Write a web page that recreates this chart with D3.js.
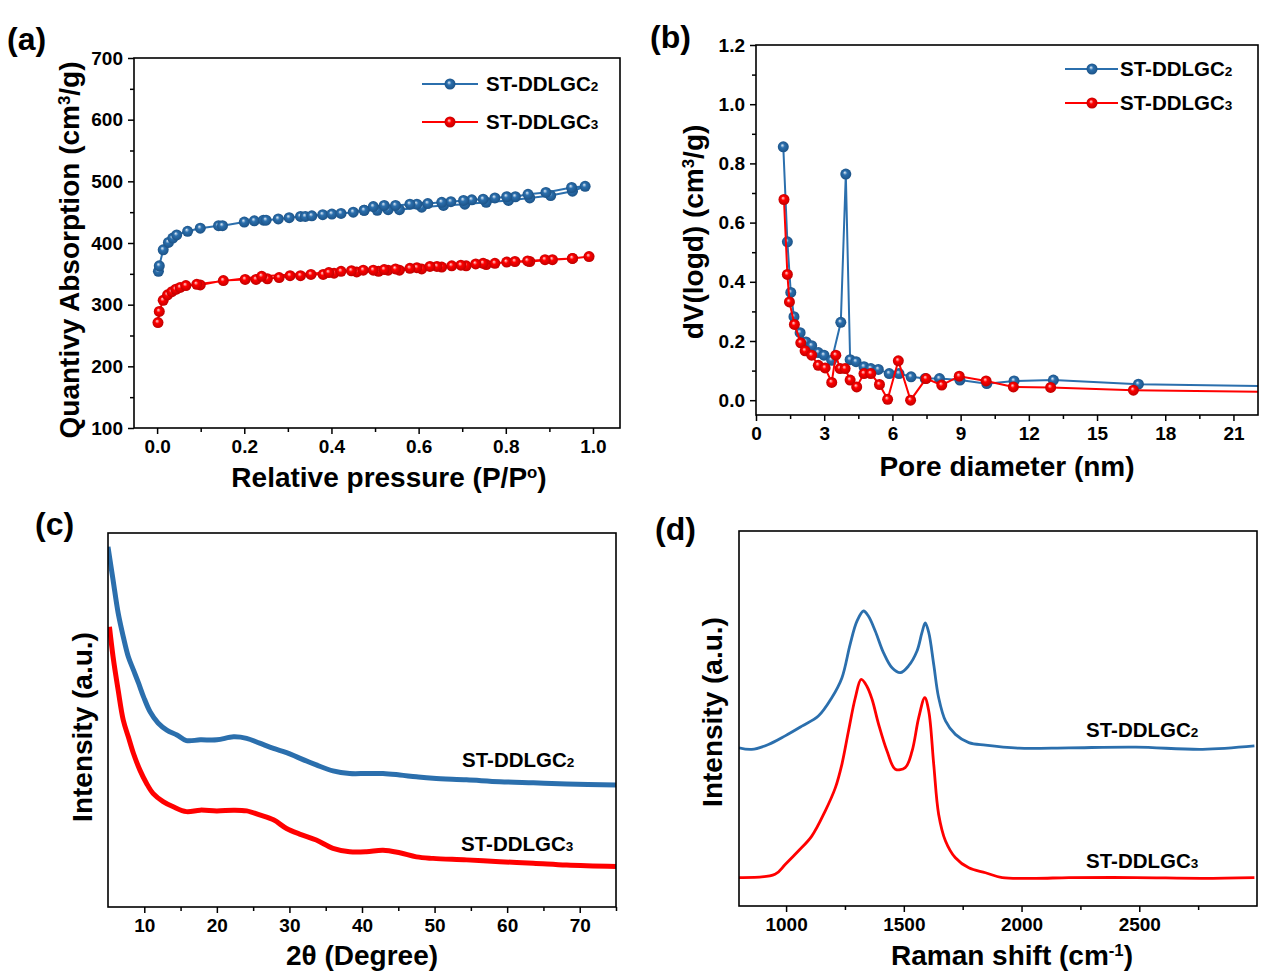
<!DOCTYPE html>
<html><head><meta charset="utf-8">
<script src="https://cdn.jsdelivr.net/npm/d3@7"></script>
<style>
body{margin:0;background:#fff}
text{font-family:"Liberation Sans",Arial,sans-serif;font-weight:bold;fill:#000}
</style>
</head><body>
<svg id="chart" width="1269" height="977"></svg>
<script>
// ---------- DATA ----------
const seriesNames = ["ST-DDLGC", "ST-DDLGC"];
const seriesSubs = ["2", "3"];
const colors = ["#2b6fad", "#ff0000"];

// (a) N2 isotherms  [P/P0, V]
const isoBlueAds = [[0.003,354],[0.005,363],[0.014,389],[0.026,401],[0.036,408],[0.045,413],[0.070,419],[0.099,424],[0.141,428],[0.150,428],[0.200,434],[0.223,436],[0.244,437],[0.250,437],[0.278,439],[0.303,441],[0.329,443],[0.340,443],[0.355,444],[0.380,446],[0.401,447],[0.422,448],[0.450,450],[0.475,453],[0.505,453],[0.530,454],[0.556,454],[0.607,458],[0.657,461],[0.706,463],[0.755,466],[0.806,469],[0.855,473],[0.903,477],[0.953,484],[0.982,492]];
const isoBlueDes = [[0.951,490],[0.892,482],[0.851,479],[0.822,475],[0.802,475],[0.775,473],[0.748,471],[0.722,470],[0.703,469],[0.674,467],[0.653,466],[0.621,464],[0.596,463],[0.580,463],[0.547,461],[0.521,461],[0.496,459],[0.475,453]];
const isoRedAds = [[0.002,271],[0.005,289],[0.014,307],[0.024,316],[0.034,321],[0.043,325],[0.053,328],[0.066,331],[0.099,332],[0.152,339],[0.202,341],[0.227,341],[0.253,342],[0.280,344],[0.305,347],[0.329,347],[0.353,349],[0.381,349],[0.406,351],[0.422,354],[0.458,353],[0.508,354],[0.530,356],[0.556,356],[0.607,358],[0.653,361],[0.709,363],[0.755,365],[0.802,369],[0.855,370],[0.907,373],[0.953,375],[0.991,378]];
const isoRedDes = [[0.953,375],[0.890,373],[0.850,371],[0.821,370],[0.775,367],[0.748,367],[0.731,366],[0.697,364],[0.676,363],[0.642,362],[0.626,362],[0.596,360],[0.580,359],[0.547,358],[0.521,357],[0.496,356],[0.473,356],[0.446,355],[0.394,352],[0.240,346],[0.091,333]];
const aXTicks = [0,0.2,0.4,0.6,0.8,1.0];
const aYTicks = [100,200,300,400,500,600,700];

// (b) pore size distribution [d (nm), dV(logd)]
const psdBlue = [[1.20,0.856],[1.38,0.535],[1.53,0.364],[1.67,0.282],[1.94,0.228],[2.20,0.197],[2.45,0.184],[2.74,0.161],[2.99,0.152],[3.33,0.135],[3.73,0.263],[3.95,0.764],[4.14,0.137],[4.40,0.130],[4.75,0.113],[5.05,0.107],[5.38,0.104],[5.86,0.090],[6.29,0.090],[6.82,0.079],[7.44,0.073],[8.07,0.073],[8.97,0.068],[10.15,0.056],[11.35,0.065],[13.08,0.068],[16.82,0.054],[22.3,0.048]];
const psdRed = [[1.23,0.678],[1.38,0.425],[1.47,0.332],[1.69,0.256],[1.97,0.194],[2.16,0.167],[2.45,0.152],[2.74,0.118],[3.04,0.109],[3.33,0.060],[3.51,0.152],[3.70,0.107],[3.92,0.107],[4.14,0.068],[4.43,0.045],[4.75,0.090],[5.05,0.090],[5.43,0.053],[5.79,0.003],[6.26,0.133],[6.80,0.000],[7.48,0.073],[8.17,0.051],[8.94,0.081],[10.12,0.065],[11.32,0.045],[12.96,0.043],[16.6,0.034],[22.3,0.028]];
const bXTicks = [0,3,6,9,12,15,18,21];
const bYTicks = [0,0.2,0.4,0.6,0.8,1.0,1.2];

// (c) XRD [2theta, intensity a.u.]
const xrdBlue = [[5.0,96.3],[5.7,87.4],[6.4,78.6],[7.1,72.3],[7.8,66.9],[8.5,63.4],[9.2,59.9],[9.9,56.2],[10.8,52.2],[11.9,49.2],[13.1,47.3],[14.5,46.0],[15.8,44.5],[17.7,44.7],[20.0,44.7],[22.3,45.5],[24.1,45.1],[25.9,43.8],[27.8,42.4],[29.6,41.3],[31.4,39.8],[33.7,38.0],[36.0,36.4],[38.3,35.7],[40.6,35.7],[42.9,35.7],[45.2,35.3],[47.5,34.8],[49.8,34.4],[54.4,34.0],[59.0,33.5],[63.6,33.2],[68.2,32.9],[75.0,32.6]];
const xrdRed = [[5.2,74.9],[5.7,66.9],[6.4,58.0],[7.1,50.0],[7.8,45.5],[8.5,41.1],[9.4,36.6],[10.3,33.1],[11.2,30.4],[12.6,28.2],[14.0,26.8],[15.8,25.5],[17.7,25.9],[20.0,25.7],[22.3,25.9],[24.1,25.7],[25.9,24.6],[27.8,23.3],[29.6,21.0],[31.4,19.5],[33.7,17.9],[36.0,15.7],[38.3,14.8],[40.6,14.8],[42.9,15.2],[45.2,14.5],[47.5,13.4],[49.8,13.0],[54.4,12.6],[59.0,12.1],[63.6,11.7],[68.2,11.2],[75.0,10.8]];
const cXTicks = [10,20,30,40,50,60,70];

// (d) Raman [shift cm-1, intensity a.u.]
const ramanBlue = [[800,42.3],[854,41.9],[925,43.2],[996,45.5],[1067,48.1],[1137,50.8],[1194,55.7],[1237,61.0],[1272,70.0],[1301,76.2],[1329,78.9],[1350,77.5],[1379,73.5],[1414,67.7],[1450,63.7],[1485,62.4],[1520,64.2],[1556,68.2],[1577,73.1],[1591,75.7],[1606,73.1],[1627,64.6],[1648,55.7],[1677,49.5],[1719,45.9],[1776,43.7],[1847,43.0],[1989,42.2],[2201,42.3],[2485,42.5],[2769,41.9],[2989,42.8]];
const ramanRed = [[800,7.6],[953,8.5],[996,11.1],[1052,14.7],[1109,18.7],[1166,25.4],[1209,31.6],[1237,37.9],[1265,46.8],[1294,55.7],[1319,60.6],[1343,58.8],[1365,55.3],[1393,48.6],[1429,41.4],[1464,36.6],[1506,37.0],[1535,41.4],[1563,50.3],[1589,55.7],[1606,52.1],[1627,37.9],[1648,24.5],[1677,17.4],[1719,12.9],[1776,10.2],[1847,8.9],[1918,7.6],[2060,7.4],[2201,7.6],[2485,7.6],[2769,7.4],[2989,7.6]];
const dXTicks = [1000,1500,2000,2500];

// ---------- DRAW ----------
const svg = d3.select("#chart");
svg.append("rect").attr("width",1269).attr("height",977).attr("fill","#fff");
const defs = svg.append("defs");
function grad(id, hi, mid, lo){
  const g = defs.append("radialGradient").attr("id",id).attr("cx","50%").attr("cy","50%").attr("r","55%").attr("fx","40%").attr("fy","35%");
  g.append("stop").attr("offset","0%").attr("stop-color",hi);
  g.append("stop").attr("offset","35%").attr("stop-color",mid);
  g.append("stop").attr("offset","100%").attr("stop-color",lo);
}
grad("gBlue","#e6f0fa",colors[0],"#1a4f82");
grad("gRed","#ffe0e0",colors[1],"#b80000");
const gradIds = ["url(#gBlue)","url(#gRed)"];

function panel(o){
  const g = svg.append("g");
  const x = d3.scaleLinear().domain(o.xd).range([o.fx0,o.fx1]);
  const y = d3.scaleLinear().domain(o.yd).range([o.fy1,o.fy0]);
  const clipId = "clip"+o.id;
  defs.append("clipPath").attr("id",clipId).append("rect")
    .attr("x",o.fx0).attr("y",o.fy0).attr("width",o.fx1-o.fx0).attr("height",o.fy1-o.fy0);
  const xa = g.append("g").attr("transform",`translate(0,${o.fy1})`)
    .call(d3.axisBottom(x).tickValues(o.xt).tickSize(6).tickPadding(6).tickFormat(o.xf));
  const xm = g.append("g").attr("transform",`translate(0,${o.fy1})`)
    .call(d3.axisBottom(x).tickValues(o.xmt).tickSize(4).tickFormat(""));
  [xa,xm].forEach(a=>{a.select(".domain").remove(); a.selectAll("line").attr("stroke","#000").attr("stroke-width",1.5);});
  xa.selectAll("text").attr("font-size",19).attr("font-family","Liberation Sans, Arial, sans-serif").attr("font-weight","bold").attr("fill","#000");
  if(o.yt){
    const ya = g.append("g").attr("transform",`translate(${o.fx0},0)`)
      .call(d3.axisLeft(y).tickValues(o.yt).tickSize(6).tickPadding(5).tickFormat(o.yf));
    const ym = g.append("g").attr("transform",`translate(${o.fx0},0)`)
      .call(d3.axisLeft(y).tickValues(o.ymt).tickSize(4).tickFormat(""));
    [ya,ym].forEach(a=>{a.select(".domain").remove(); a.selectAll("line").attr("stroke","#000").attr("stroke-width",1.5);});
    ya.selectAll("text").attr("font-size",19).attr("font-family","Liberation Sans, Arial, sans-serif").attr("font-weight","bold").attr("fill","#000");
  }
  const plot = g.append("g").attr("clip-path",`url(#${clipId})`);
  g.append("rect").attr("x",o.fx0).attr("y",o.fy0).attr("width",o.fx1-o.fx0).attr("height",o.fy1-o.fy0)
    .attr("fill","none").attr("stroke","#000").attr("stroke-width",1.6);
  return {g,x,y,plot};
}

function title(g, xp, yp, rot, size, parts){
  const t = g.append("text").attr("font-size",size).attr("text-anchor","middle")
    .attr("transform",`translate(${xp},${yp}) rotate(${rot})`);
  parts.forEach(p=>{
    const s = t.append("tspan").text(p.t);
    if(p.sup){ s.attr("font-size",size*0.6).attr("baseline-shift","super"); }
  });
  return t;
}
function label(txt,xp,yp){
  svg.append("text").attr("x",xp).attr("y",yp).attr("font-size",32).text(txt);
}
function nameText(g, i, xp, yp, size){
  const t = g.append("text").attr("x",xp).attr("y",yp).attr("font-size",size);
  t.append("tspan").text(seriesNames[i]);
  t.append("tspan").attr("font-size",size*0.66).text(seriesSubs[i]);
}

// ---- Panel (a) ----
const A = panel({id:"a",fx0:134,fx1:620,fy0:58,fy1:428,xd:[-0.053,1.062],yd:[100,700],
  xt:aXTicks,xmt:[0.1,0.3,0.5,0.7,0.9],xf:d3.format(".1f"),
  yt:aYTicks,ymt:[150,250,350,450,550,650],yf:d3.format("d")});
const lineA = d3.line().x(d=>A.x(d[0])).y(d=>A.y(d[1]));
[[isoBlueAds,isoBlueDes],[isoRedAds,isoRedDes]].forEach((br,i)=>{
  const all = br[0].concat(br[1]);
  A.plot.append("path").attr("d",lineA(all)).attr("fill","none").attr("stroke",colors[i]).attr("stroke-width",2);
  A.plot.selectAll(null).data(all).enter().append("circle")
    .attr("cx",d=>A.x(d[0])).attr("cy",d=>A.y(d[1])).attr("r",5.5).attr("fill",gradIds[i]);
});
[84,122].forEach((ly,i)=>{
  A.g.append("line").attr("x1",422).attr("x2",478).attr("y1",ly).attr("y2",ly).attr("stroke",colors[i]).attr("stroke-width",2);
  A.g.append("circle").attr("cx",450).attr("cy",ly).attr("r",5.5).attr("fill",gradIds[i]);
  nameText(A.g,i,486,ly+7,20.5);
});
title(A.g,389,487,0,28,[{t:"Relative pressure (P/P"},{t:"o",sup:true},{t:")"}]);
title(A.g,79,250,-90,28,[{t:"Quantivy Absorption (cm"},{t:"3",sup:true},{t:"/g)"}]);
label("(a)",7,50);

// ---- Panel (b) ----
const B = panel({id:"b",fx0:756,fx1:1258,fy0:45,fy1:415,xd:[0,22.08],yd:[-0.05,1.2],
  xt:bXTicks,xmt:[1.5,4.5,7.5,10.5,13.5,16.5,19.5],xf:d3.format("d"),
  yt:bYTicks,ymt:[0.1,0.3,0.5,0.7,0.9,1.1],yf:d3.format(".1f")});
const lineB = d3.line().x(d=>B.x(d[0])).y(d=>B.y(d[1]));
[psdBlue,psdRed].forEach((s,i)=>{
  B.plot.append("path").attr("d",lineB(s)).attr("fill","none").attr("stroke",colors[i]).attr("stroke-width",2);
  B.plot.selectAll(null).data(s.filter(d=>d[0]<22)).enter().append("circle")
    .attr("cx",d=>B.x(d[0])).attr("cy",d=>B.y(d[1])).attr("r",5.5).attr("fill",gradIds[i]);
});
[69,103].forEach((ly,i)=>{
  B.g.append("line").attr("x1",1065).attr("x2",1118).attr("y1",ly).attr("y2",ly).attr("stroke",colors[i]).attr("stroke-width",2);
  B.g.append("circle").attr("cx",1092).attr("cy",ly).attr("r",5.5).attr("fill",gradIds[i]);
  nameText(B.g,i,1120,ly+7,20.5);
});
title(B.g,1007,476,0,28,[{t:"Pore diameter (nm)"}]);
title(B.g,703,232,-90,28,[{t:"dV(logd) (cm"},{t:"3",sup:true},{t:"/g)"}]);
label("(b)",650,48);

// ---- Panel (c) ----
const C = panel({id:"c",fx0:108,fx1:616,fy0:533,fy1:907,xd:[5,75],yd:[0,100],
  xt:cXTicks,xmt:[15,25,35,45,55,65,75],xf:d3.format("d")});
const lineC = d3.line().curve(d3.curveCatmullRom.alpha(0.5)).x(d=>C.x(d[0])).y(d=>C.y(d[1]));
[xrdBlue,xrdRed].forEach((s,i)=>{
  C.plot.append("path").attr("d",lineC(s)).attr("fill","none").attr("stroke",colors[i]).attr("stroke-width",5).attr("stroke-linejoin","round");
});
nameText(C.g,0,462,767,20.5);
nameText(C.g,1,461,851,20.5);
title(C.g,362,965,0,28,[{t:"2θ (Degree)"}]);
title(C.g,92,727,-90,28,[{t:"Intensity (a.u.)"}]);
label("(c)",35,535);

// ---- Panel (d) ----
const D = panel({id:"d",fx0:739,fx1:1257,fy0:531,fy1:906,xd:[800,3000],yd:[0,100.3],
  xt:dXTicks,xmt:[1250,1750,2250,2750],xf:d3.format("d")});
const lineD = d3.line().curve(d3.curveCatmullRom.alpha(0.5)).x(d=>D.x(d[0])).y(d=>D.y(d[1]));
[ramanBlue,ramanRed].forEach((s,i)=>{
  D.plot.append("path").attr("d",lineD(s)).attr("fill","none").attr("stroke",colors[i]).attr("stroke-width",2.8).attr("stroke-linejoin","round");
});
nameText(D.g,0,1086,737,20.5);
nameText(D.g,1,1086,868,20.5);
title(D.g,1012,965,0,28,[{t:"Raman shift (cm"},{t:"-1",sup:true},{t:")"}]);
title(D.g,722,712,-90,28,[{t:"Intensity (a.u.)"}]);
label("(d)",655,540);
</script>
</body></html>
